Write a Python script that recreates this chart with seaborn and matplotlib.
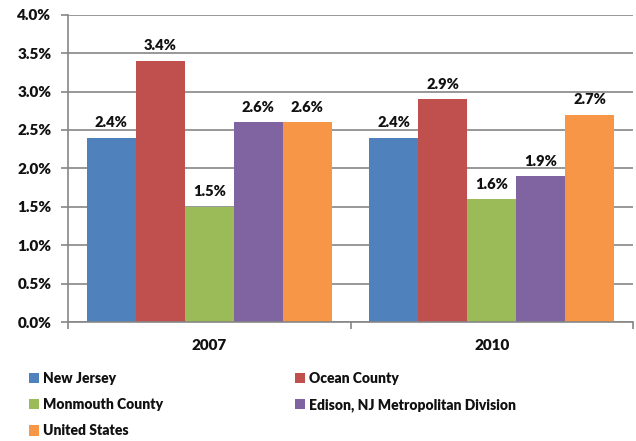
import matplotlib
matplotlib.use("Agg")
import matplotlib.pyplot as plt
import seaborn as sns
import pandas as pd
from matplotlib.ticker import FuncFormatter, MultipleLocator
from matplotlib.patches import Patch

years = ["2007", "2010"]
regions = ["New Jersey", "Ocean County", "Monmouth County",
           "Edison, NJ Metropolitan Division", "United States"]
values_2007 = [2.4, 3.4, 1.5, 2.6, 2.6]
values_2010 = [2.4, 2.9, 1.6, 1.9, 2.7]
colors = ["#4F81BD", "#C0504D", "#9BBB59", "#8064A2", "#F79646"]

rows = []
for yr, vals in zip(years, [values_2007, values_2010]):
    for r, v in zip(regions, vals):
        rows.append({"Year": yr, "Region": r, "Value": v})
df = pd.DataFrame(rows)

sns.set_theme(style="white")
plt.rcParams['font.family'] = ['Lato', 'DejaVu Sans']
W = 'heavy'

fig = plt.figure(figsize=(6.36, 4.41), dpi=100)
ax = fig.add_axes([68/636, 1-322/441, (633-68)/636, (322-14.7)/441])

sns.barplot(data=df, x="Year", y="Value", hue="Region", hue_order=regions,
            palette=colors, saturation=1, width=0.867, ax=ax, legend=False,
            linewidth=0, errorbar=None)

for cont in ax.containers:
    ax.bar_label(cont, labels=[f"{v:.1f}%" for v in cont.datavalues],
                 padding=6, fontsize=10.5, fontweight=W, color='#111111')

ax.set_ylim(0, 4.0)
ax.set_xlim(-0.5, 1.5)
ax.yaxis.set_major_locator(MultipleLocator(0.5))
ax.yaxis.set_major_formatter(FuncFormatter(lambda v, p: f"{v:.1f}%"))
ax.grid(axis='y', color='#868686', linewidth=1.2)
ax.set_axisbelow(True)
ax.set_xlabel("")
ax.set_ylabel("")
for s in ["top", "right"]:
    ax.spines[s].set_visible(False)
for s in ["left", "bottom"]:
    ax.spines[s].set_color('#868686')
    ax.spines[s].set_linewidth(1.2)

ax.tick_params(axis='y', which='major', left=True, length=5, width=1.2,
               color='#868686', labelsize=11, pad=7, labelcolor='#111111')
ax.set_xticks([0, 1])
ax.set_xticklabels(years, fontsize=11, fontweight=W, color='#111111')
ax.tick_params(axis='x', which='major', bottom=False, pad=6)
ax.set_xticks([-0.5, 0.5, 1.5], minor=True)
ax.tick_params(axis='x', which='minor', bottom=True, length=5, width=1.2,
               color='#868686', direction='out')
for lab in ax.get_yticklabels():
    lab.set_fontweight(W)

handles = [Patch(facecolor=c, edgecolor='none') for c in colors]
order = [0, 2, 4, 1, 3]
leg = fig.legend([handles[i] for i in order], [regions[i] for i in order],
                 ncol=2, loc='upper left', bbox_to_anchor=(29/636, 1-372/441),
                 frameon=False, fontsize=10, handlelength=0.75,
                 handleheight=0.75, handletextpad=0.25, labelspacing=0.95,
                 columnspacing=9.5, borderaxespad=0, borderpad=0)
for t in leg.get_texts():
    t.set_fontweight(W)
    t.set_color('#111111')

fig.savefig("out.png", dpi=100)
